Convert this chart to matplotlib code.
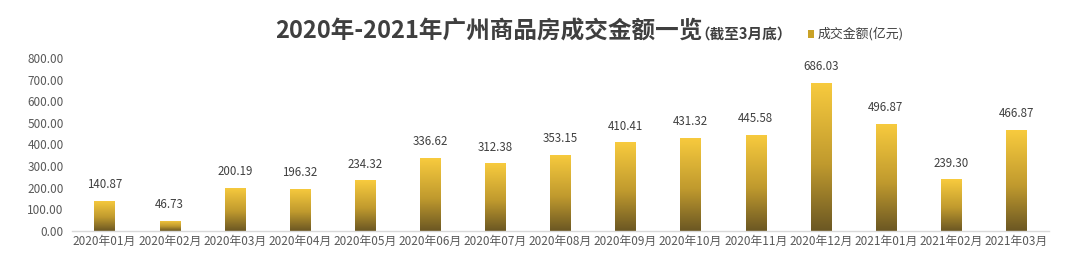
import numpy as np
import matplotlib
matplotlib.use("Agg")
import matplotlib.pyplot as plt
from matplotlib.colors import LinearSegmentedColormap
from matplotlib.patches import Rectangle

plt.rcParams['font.family'] = ['Noto Sans CJK SC', 'DejaVu Sans']

months = ["2020年01月", "2020年02月", "2020年03月", "2020年04月", "2020年05月",
          "2020年06月", "2020年07月", "2020年08月", "2020年09月", "2020年10月",
          "2020年11月", "2020年12月", "2021年01月", "2021年02月", "2021年03月"]
values = [140.87, 46.73, 200.19, 196.32, 234.32, 336.62, 312.38, 353.15,
          410.41, 431.32, 445.58, 686.03, 496.87, 239.30, 466.87]
yticks = [0, 100, 200, 300, 400, 500, 600, 700, 800]

fig = plt.figure(figsize=(10.8, 2.63), dpi=100)
ax = fig.add_axes([0.0667, 0.1217, 0.9043, 0.6578])

cmap = LinearSegmentedColormap.from_list("gold", [(0.0, "#6b5723"), (0.45, "#c09a2e"), (1.0, "#f8cb3e")])
grad = np.linspace(0, 1, 256).reshape(-1, 1)
width = 0.31
x = np.arange(len(values))
bars = ax.bar(x, values, width=width, color="none", edgecolor="none")
for b in bars:
    bx, by = b.get_x(), b.get_y()
    bw, bh = b.get_width(), b.get_height()
    im = ax.imshow(grad, extent=[bx, bx + bw, by, by + bh], origin="lower",
                   cmap=cmap, aspect="auto", zorder=2, interpolation="bilinear")
    clip = Rectangle((bx, by), bw, bh, transform=ax.transData)
    im.set_clip_path(clip)

for xi, v in zip(x, values):
    ax.annotate(f"{v:.2f}", (xi, v), xytext=(0, 7), textcoords="offset points",
                ha="center", va="bottom", fontsize=8.3, color="#404040")

ax.set_xlim(-0.5, len(values) - 0.5)
ax.set_ylim(0, 800)
ax.set_yticks(yticks)
ax.set_yticklabels([f"{t:.2f}" for t in yticks], fontsize=8.5, color="#595959")
ax.set_xticks(x)
ax.set_xticklabels(months, fontsize=8.5, color="#595959")
ax.tick_params(axis="both", length=0)
ax.tick_params(axis="y", pad=6)
ax.tick_params(axis="x", pad=3)
for s in ["top", "right", "left"]:
    ax.spines[s].set_visible(False)
ax.spines["bottom"].set_color("#d9d9d9")
ax.spines["bottom"].set_linewidth(1.0)

fig.text(0.2546, 0.88, "2020年-2021年广州商品房成交金额一览", fontsize=17,
         fontweight="bold", color="#3f3f3f", ha="left", va="center")
fig.text(0.644, 0.872, "（截至3月底）", fontsize=10.5, fontweight="bold",
         color="#3f3f3f", ha="left", va="center")
fig.patches.append(Rectangle((0.748, 0.855), 0.0055, 0.03, transform=fig.transFigure,
                             facecolor="#c9a227", edgecolor="none"))
fig.text(0.757, 0.872, "成交金额(亿元)", fontsize=9.3, color="#404040",
         ha="left", va="center")

fig.savefig("out.png", dpi=100, facecolor="white")
